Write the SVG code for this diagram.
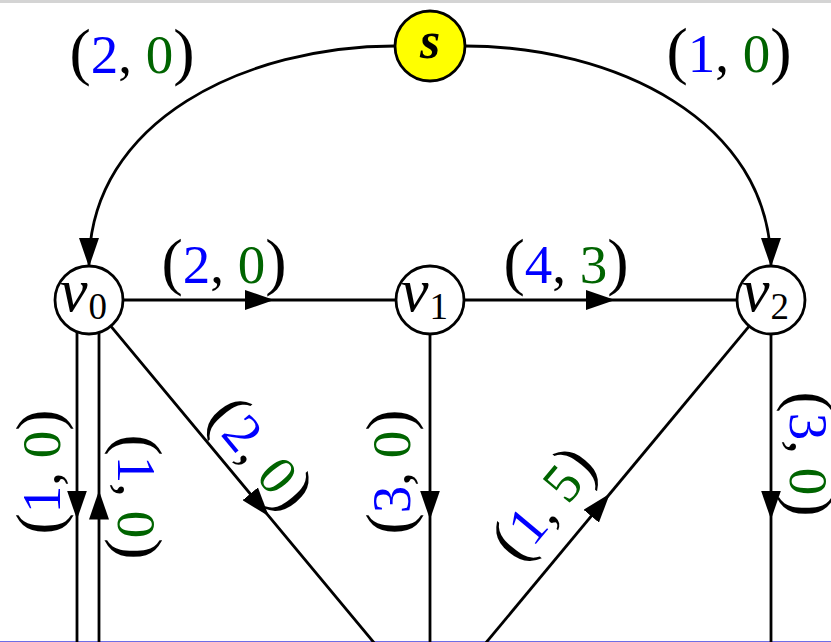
<svg xmlns="http://www.w3.org/2000/svg" width="831" height="642" viewBox="0 0 831 642">
<defs>
<marker id="ah" markerUnits="userSpaceOnUse" markerWidth="29" markerHeight="20" viewBox="0 0 29 20" refX="28" refY="10" orient="auto"><path d="M0,0 L29,10 L0,20 z" fill="#000"/></marker>
<marker id="am" markerUnits="userSpaceOnUse" markerWidth="29" markerHeight="20" viewBox="0 0 29 20" refX="14.5" refY="10" orient="auto"><path d="M0,0 L29,10 L0,20 z" fill="#000"/></marker>
</defs>
<style>
.e{fill:none;stroke:#000;stroke-width:2.8}
.m{marker-mid:url(#am)}
.t{marker-end:url(#ah)}
.n{fill:#fff;stroke:#000;stroke-width:2.8}
.lab{font-family:"Liberation Serif",serif;font-size:55px;fill:#000}
.p{font-size:64px}
.b{fill:#0000ff}
.g{fill:#006400}
.vi{font-family:"Liberation Serif",serif;font-style:italic;font-size:62px;fill:#000}
.sub{font-style:normal;font-size:37px}
.si{font-family:"Liberation Serif",serif;font-style:italic;font-weight:bold;font-size:52px;fill:#000}
</style>
<rect x="0" y="0" width="831" height="3" fill="#d4d4d4"/>
<rect x="0" y="641" width="831" height="1" fill="#6e6ee6"/>
<g id="connectors">
<path class="e t" d="M395,46 C248,46 89,119 89,266"/>
<path class="e t" d="M465,46 C612,46 771,119 771,266"/>
<path class="e m" d="M123,300 L259.5,300 L396,300"/>
<path class="e m" d="M464,300 L600.5,300 L737,300"/>
<path class="e m" d="M77,332 L77,505 L77,678"/>
<path class="e m" d="M99,678 L99,505 L99,332"/>
<path class="e m" d="M110.8,326.2 L259.5,505 L408.2,683.8"/>
<path class="e m" d="M430,334 L430,505 L430,676"/>
<path class="e m" d="M451.8,683.8 L600.5,505 L749.2,326.2"/>
<path class="e m" d="M771,334 L771,505 L771,676"/>
</g>
<g id="labels">
<text class="lab" x="132" y="73" text-anchor="middle"><tspan class="p">(</tspan><tspan class="b">2</tspan>, <tspan class="g">0</tspan><tspan class="p">)</tspan></text>
<text class="lab" x="729" y="72" text-anchor="middle"><tspan class="p">(</tspan><tspan class="b">1</tspan>, <tspan class="g">0</tspan><tspan class="p">)</tspan></text>
<text class="lab" x="224" y="283" text-anchor="middle"><tspan class="p">(</tspan><tspan class="b">2</tspan>, <tspan class="g">0</tspan><tspan class="p">)</tspan></text>
<text class="lab" x="566" y="283" text-anchor="middle"><tspan class="p">(</tspan><tspan class="b">4</tspan>, <tspan class="g">3</tspan><tspan class="p">)</tspan></text>
<text class="lab" transform="translate(60,472) rotate(-90)" text-anchor="middle"><tspan class="p">(</tspan><tspan class="b">1</tspan>, <tspan class="g">0</tspan><tspan class="p">)</tspan></text>
<text class="lab" transform="translate(118,497) rotate(90)" text-anchor="middle"><tspan class="p">(</tspan><tspan class="b">1</tspan>, <tspan class="g">0</tspan><tspan class="p">)</tspan></text>
<text class="lab" transform="translate(410,472) rotate(-90)" text-anchor="middle"><tspan class="p">(</tspan><tspan class="b">3</tspan>, <tspan class="g">0</tspan><tspan class="p">)</tspan></text>
<text class="lab" transform="translate(790,454) rotate(90)" text-anchor="middle"><tspan class="p">(</tspan><tspan class="b">3</tspan>, <tspan class="g">0</tspan><tspan class="p">)</tspan></text>
<text class="lab" transform="translate(246,466) rotate(50.3)" text-anchor="middle"><tspan class="p">(</tspan><tspan class="b">2</tspan>, <tspan class="g">0</tspan><tspan class="p">)</tspan></text>
<text class="lab" transform="translate(559,516) rotate(-50.3)" text-anchor="middle"><tspan class="p">(</tspan><tspan class="b">1</tspan>, <tspan class="g">5</tspan><tspan class="p">)</tspan></text>
</g>
<g id="s">
<circle cx="430" cy="46" r="35" fill="#ffff00" stroke="#000" stroke-width="2.8"/>
<text class="si" x="430" y="58" text-anchor="middle">s</text>
</g>
<g id="v0">
<circle class="n" cx="89" cy="300" r="34"/>
<text class="vi" x="60" y="311">v<tspan class="sub" dx="1" dy="8">0</tspan></text>
</g>
<g id="v1">
<circle class="n" cx="430" cy="300" r="34"/>
<text class="vi" x="401" y="311">v<tspan class="sub" dx="1" dy="8">1</tspan></text>
</g>
<g id="v2">
<circle class="n" cx="771" cy="300" r="34"/>
<text class="vi" x="742" y="311">v<tspan class="sub" dx="1" dy="8">2</tspan></text>
</g>
</svg>
